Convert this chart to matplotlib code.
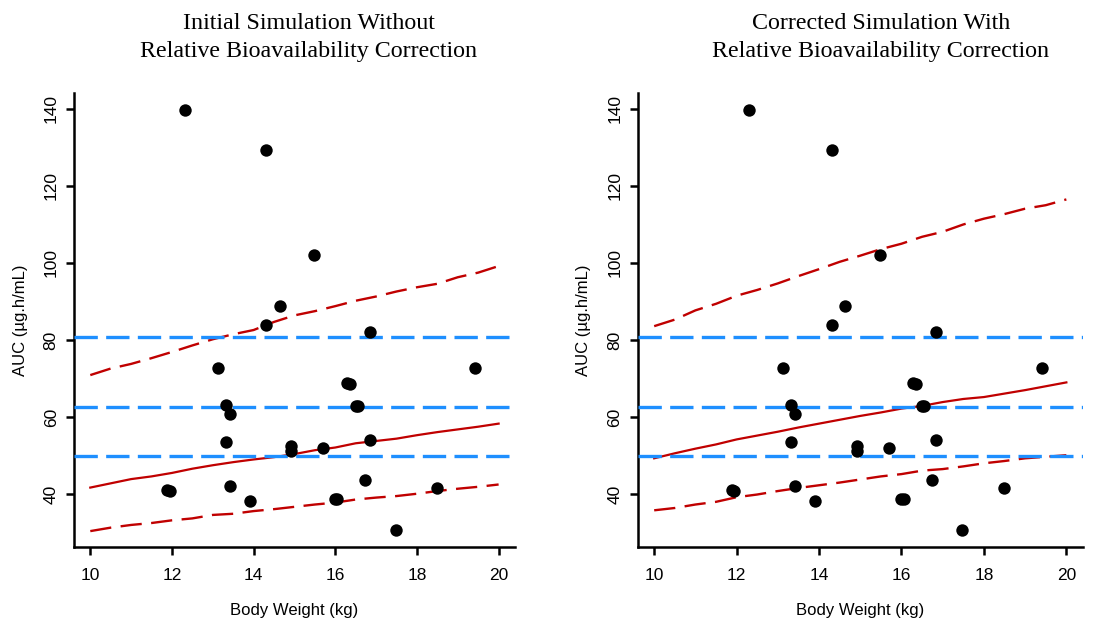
import numpy as np
import matplotlib
matplotlib.use('Agg')
import matplotlib.pyplot as plt

# observed data (same in both panels)
wt = [11.88, 11.94, 12.31, 13.12, 13.32, 13.32, 13.42, 13.42, 13.91, 14.31,
      14.31, 14.64, 14.91, 14.91, 15.49, 15.70, 16.00, 16.05, 16.28, 16.35,
      16.50, 16.55, 16.74, 16.84, 16.84, 17.48, 18.48, 19.42]
auc = [41.0, 40.9, 139.8, 72.8, 63.1, 53.5, 60.9, 42.0, 38.1, 129.4,
       83.8, 88.8, 52.4, 51.1, 102.0, 51.9, 38.7, 38.8, 68.8, 68.7,
       63.0, 63.0, 43.6, 82.2, 54.1, 30.6, 41.5, 72.8]

# reference AUC band (horizontal lines)
ref_lines = [80.7, 62.6, 49.9]

# simulated percentiles vs body weight
sim_wt = [10.0, 10.5, 11.0, 11.5, 12.0, 12.5, 13.0, 13.5, 14.0, 14.5, 15.0,
          15.5, 16.0, 16.5, 17.0, 17.5, 18.0, 18.5, 19.0, 19.5, 20.0]
init_p95 = [70.9, 72.6, 73.8, 75.3, 76.9, 78.6, 80.2, 81.5, 82.6, 84.7, 86.4,
            87.5, 88.8, 90.2, 91.3, 92.6, 93.7, 94.6, 96.3, 97.5, 99.2]
init_p50 = [41.7, 42.8, 43.9, 44.6, 45.5, 46.6, 47.5, 48.3, 49.0, 49.6, 50.4,
            51.4, 52.1, 53.2, 53.8, 54.4, 55.3, 56.1, 56.8, 57.5, 58.3]
init_p05 = [30.4, 31.3, 32.0, 32.5, 33.2, 33.7, 34.6, 34.9, 35.6, 36.1, 36.7,
            37.3, 37.8, 38.6, 39.1, 39.5, 40.1, 40.8, 41.4, 41.9, 42.5]
corr_p95 = [83.6, 85.3, 87.7, 89.4, 91.5, 93.0, 94.7, 96.6, 98.4, 100.3, 101.9,
            103.6, 105.0, 106.8, 108.1, 110.0, 111.5, 112.7, 114.1, 115.0, 116.5]
corr_p50 = [49.3, 50.6, 51.8, 52.9, 54.2, 55.2, 56.2, 57.3, 58.3, 59.3, 60.3,
            61.2, 62.2, 62.9, 63.9, 64.7, 65.2, 66.1, 67.0, 68.0, 69.0]
corr_p05 = [35.8, 36.4, 37.3, 38.0, 39.2, 39.9, 40.8, 41.6, 42.3, 43.0, 43.8,
            44.6, 45.2, 46.1, 46.5, 47.2, 48.0, 48.6, 49.3, 49.7, 50.1]

titles = ['Initial Simulation Without\nRelative Bioavailability Correction',
          'Corrected Simulation With\nRelative Bioavailability Correction']

red = '#C00000'
blue = '#1E8FFF'

fig = plt.figure(figsize=(10.94, 6.21), dpi=100)
axes = [fig.add_axes([0.0676, 0.1187, 0.4031, 0.732]),
        fig.add_axes([0.5829, 0.1187, 0.4069, 0.732])]
title_x = [0.2824, 0.8053]
bands = [(init_p95, init_p50, init_p05), (corr_p95, corr_p50, corr_p05)]

for ax, (p95, p50, p05), tt, tx in zip(axes, bands, titles, title_x):
    ax.scatter(wt, auc, s=80, color='black', zorder=5, linewidths=0)
    ax.plot(sim_wt, p95, color=red, lw=1.7, dashes=(9, 4), zorder=3)
    ax.plot(sim_wt, p50, color=red, lw=1.6, zorder=3)
    ax.plot(sim_wt, p05, color=red, lw=1.7, dashes=(9, 4), zorder=3)
    for v in ref_lines:
        ax.axhline(v, color=blue, lw=2.4, dashes=(7, 2.5), zorder=4)
    ax.set_xlim(9.6, 20.4)
    ax.set_ylim(26.2, 144.2)
    ax.set_xticks([10, 12, 14, 16, 18, 20])
    ax.set_yticks([40, 60, 80, 100, 120, 140])
    for s in ['top', 'right']:
        ax.spines[s].set_visible(False)
    for s in ['left', 'bottom']:
        ax.spines[s].set_linewidth(1.8)
    ax.tick_params(axis='both', length=6, width=1.8, labelsize=12.5)
    ax.tick_params(axis='x', pad=9)
    ax.tick_params(axis='y', pad=5)
    for lab in ax.get_yticklabels():
        lab.set_rotation(90)
        lab.set_va('center')
    for lab in ax.get_xticklabels() + ax.get_yticklabels():
        lab.set_family('Liberation Sans')
    ax.set_xlabel('Body Weight (kg)', family='Liberation Sans', fontsize=12)
    ax.set_ylabel('AUC (µg.h/mL)', family='Liberation Sans', fontsize=12)
    ax.xaxis.set_label_coords(0.5, -0.122)
    ax.yaxis.set_label_coords(-0.105, 0.5)
    fig.text(tx, 0.94, tt, ha='center', va='center', family='Liberation Serif',
             fontsize=17.3, linespacing=1.45)

plt.savefig('out.png', dpi=100)
